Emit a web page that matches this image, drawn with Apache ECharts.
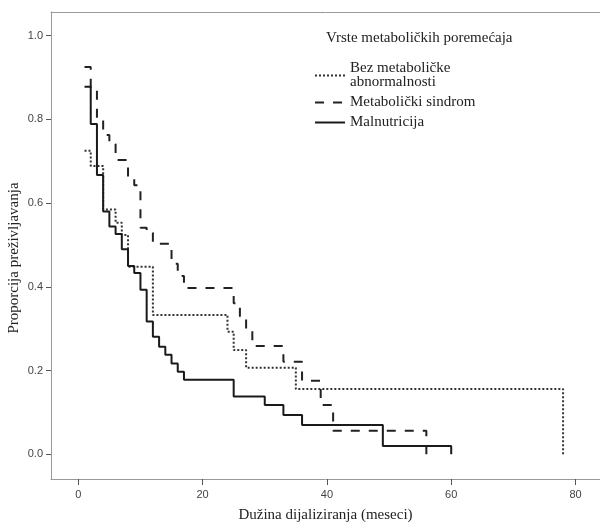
<!DOCTYPE html>
<html><head><meta charset="utf-8">
<script src="https://cdn.jsdelivr.net/npm/echarts@6.0.0/dist/echarts.min.js"></script>
<style>html,body{margin:0;padding:0;background:#fff}#c{width:600px;height:522px}</style>
</head><body><div id="c"></div>
<script>
const xTicks = [0, 20, 40, 60, 80];
const yTicks = [0, 0.2, 0.4, 0.6, 0.8, 1.0];
const legendTitle = 'Vrste metaboličkih poremećaja';
const xTitle = 'Dužina dijaliziranja (meseci)';
const yTitle = 'Proporcija preživljavanja';
const groupNames = ['Bez metaboličke\nabnormalnosti', 'Metabolički sindrom', 'Malnutricija'];

// Bez metaboličke abnormalnosti (dotted)
const bezTime = [1, 2, 4, 6, 7, 8, 12, 24, 25, 27, 35, 78];
const bezSurv = [0.725, 0.689, 0.585, 0.553, 0.524, 0.448, 0.333, 0.293, 0.249, 0.207, 0.156, 0];

// Metabolički sindrom (dashed)
const sinTime = [1, 2, 3, 4, 5, 6, 8, 9, 10, 11, 12, 15, 16, 17, 25, 26, 27, 28, 33, 36, 39, 41, 56];
const sinSurv = [0.925, 0.875, 0.800, 0.763, 0.741, 0.703, 0.663, 0.643, 0.541, 0.529, 0.503, 0.455, 0.426, 0.397, 0.361, 0.330, 0.297, 0.259, 0.221, 0.176, 0.118, 0.056, 0];

// Malnutricija (solid)
const malTime = [1, 2, 3, 4, 5, 6, 7, 8, 9, 10, 11, 12, 13, 14, 15, 16, 17, 25, 30, 33, 36, 49, 60];
const malSurv = [0.878, 0.789, 0.667, 0.580, 0.544, 0.526, 0.490, 0.450, 0.433, 0.393, 0.317, 0.281, 0.257, 0.238, 0.217, 0.197, 0.178, 0.138, 0.118, 0.094, 0.070, 0.020, 0];

const pairs = (t, s) => t.map((v, i) => [v, s[i]]);
const serif = 'Liberation Serif, Times New Roman, serif';
const sans = 'Liberation Sans, Arial, sans-serif';
const xMin = -4.393, xMax = 83.94, yMin = -0.059, yMax = 1.0566;

const chart = echarts.init(document.getElementById('c'), null, {renderer: 'canvas'});
chart.setOption({
  animation: false,
  backgroundColor: '#fff',
  title: {
    text: legendTitle, left: 326, top: 31, padding: 0,
    textStyle: {fontFamily: serif, fontSize: 15, fontWeight: 'normal', color: '#222'}
  },
  legend: {
    data: groupNames, orient: 'vertical', left: 314, top: 61, padding: 0,
    itemWidth: 30, itemHeight: 12, itemGap: 5,
    itemStyle: {opacity: 0, borderWidth: 0},
    textStyle: {fontFamily: serif, fontSize: 15, color: '#222', lineHeight: 14}
  },
  grid: {left: 51, right: 0, top: 12, bottom: 43, outerBoundsMode: 'none', containLabel: false},
  xAxis: [{
    type: 'value', min: xMin, max: xMax,
    axisLine: {show: true, onZero: false, lineStyle: {color: '#999', width: 1}},
    axisTick: {show: true, customValues: xTicks, length: 6, lineStyle: {color: '#555'}},
    axisLabel: {customValues: xTicks, margin: 10, color: '#444', fontSize: 11, fontFamily: sans},
    splitLine: {show: false},
    name: xTitle, nameLocation: 'middle', nameGap: 29, nameMoveOverlap: false,
    nameTextStyle: {fontFamily: serif, fontSize: 15, color: '#222'}
  }, {
    type: 'value', position: 'top', min: xMin, max: xMax,
    axisLine: {show: true, onZero: false, lineStyle: {color: '#999', width: 1}},
    axisTick: {show: false}, axisLabel: {show: false}, splitLine: {show: false}
  }],
  yAxis: {
    type: 'value', min: yMin, max: yMax,
    axisLine: {show: true, onZero: false, lineStyle: {color: '#999', width: 1}},
    axisTick: {show: true, customValues: yTicks, length: 5, lineStyle: {color: '#555'}},
    axisLabel: {customValues: yTicks, margin: 8, color: '#444', fontSize: 11, fontFamily: sans,
      formatter: v => v.toFixed(1)},
    splitLine: {show: false},
    name: yTitle, nameLocation: 'middle', nameGap: 29, nameRotate: 90, nameMoveOverlap: false,
    nameTextStyle: {fontFamily: serif, fontSize: 15, color: '#222', padding: [0, 25, 0, 0]}
  },
  series: [
    {name: groupNames[0], type: 'line', step: 'end', symbol: 'none', data: pairs(bezTime, bezSurv),
      lineStyle: {color: '#333', width: 2, type: [2, 2]}, itemStyle: {color: '#333'}},
    {name: groupNames[1], type: 'line', step: 'end', symbol: 'none', data: pairs(sinTime, sinSurv),
      lineStyle: {color: '#222', width: 2, type: [9, 9]}, itemStyle: {color: '#222'}},
    {name: groupNames[2], type: 'line', step: 'end', symbol: 'none', data: pairs(malTime, malSurv),
      lineStyle: {color: '#1a1a1a', width: 2, type: 'solid'}, itemStyle: {color: '#1a1a1a'}}
  ]
});
</script></body></html>
